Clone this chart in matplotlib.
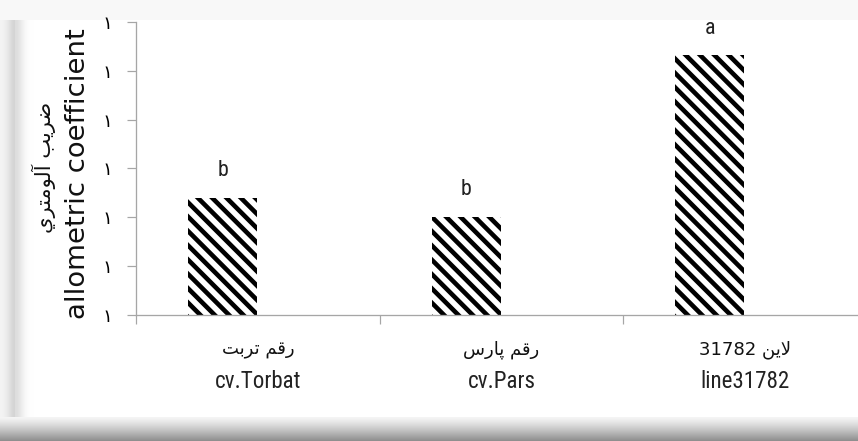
import re
import numpy as np
import matplotlib
matplotlib.use("Agg")
import matplotlib.pyplot as plt
from matplotlib import font_manager, transforms

# ---------------- data ----------------
categories_fa = ["رقم تربت", "رقم پارس", "لاين 31782"]
categories_en = ["cv.Torbat", "cv.Pars", "line31782"]
values = [1.240, 1.201, 1.532]
letters = ["b", "b", "a"]
yticks = [1.0, 1.1, 1.2, 1.3, 1.4, 1.5, 1.6]
ytick_labels = ["١"] * 7
ylabel_fa = "ضريب آلومتري"
ylabel_en = "allometric coefficient"

# ---------------- simple Arabic shaping (presentation forms) ----------------
FORMS = {
    "\u0627": ("\uFE8D", "\uFE8E", None, None),
    "\u0622": ("\uFE81", "\uFE82", None, None),
    "\u0628": ("\uFE8F", "\uFE90", "\uFE91", "\uFE92"),
    "\u062A": ("\uFE95", "\uFE96", "\uFE97", "\uFE98"),
    "\u0631": ("\uFEAD", "\uFEAE", None, None),
    "\u0633": ("\uFEB1", "\uFEB2", "\uFEB3", "\uFEB4"),
    "\u0636": ("\uFEBD", "\uFEBE", "\uFEBF", "\uFEC0"),
    "\u0642": ("\uFED5", "\uFED6", "\uFED7", "\uFED8"),
    "\u0644": ("\uFEDD", "\uFEDE", "\uFEDF", "\uFEE0"),
    "\u0645": ("\uFEE1", "\uFEE2", "\uFEE3", "\uFEE4"),
    "\u0646": ("\uFEE5", "\uFEE6", "\uFEE7", "\uFEE8"),
    "\u0648": ("\uFEED", "\uFEEE", None, None),
    "\u064A": ("\uFEF1", "\uFEF2", "\uFEF3", "\uFEF4"),
    "\u067E": ("\uFB56", "\uFB57", "\uFB58", "\uFB59"),
    "\u06CC": ("\uFBFC", "\uFBFD", "\uFBFE", "\uFBFF"),
}
LAM_ALEF = {"\u0627": ("\uFEFB", "\uFEFC"), "\u0622": ("\uFEF5", "\uFEF6")}


def shape(s):
    res = []
    prev_joins_next = False
    i, n = 0, len(s)
    while i < n:
        c = s[i]
        if c not in FORMS:
            res.append(c)
            prev_joins_next = False
            i += 1
            continue
        nxt = s[i + 1] if i + 1 < n else None
        if c == "\u0644" and nxt in LAM_ALEF:
            res.append(LAM_ALEF[nxt][1 if prev_joins_next else 0])
            prev_joins_next = False
            i += 2
            continue
        iso, fin, ini, med = FORMS[c]
        jp = prev_joins_next
        jn = ini is not None and nxt in FORMS
        if jp and jn:
            f = med
        elif jp:
            f = fin
        elif jn:
            f = ini
        else:
            f = iso
        res.append(f)
        prev_joins_next = ini is not None
        i += 1
    return "".join(res)


def visual(s):
    tokens = re.findall(r"[0-9A-Za-z.]+|.", shape(s))
    return "".join(reversed(tokens))


# ---------------- fonts ----------------
names = {f.name for f in font_manager.fontManager.ttflist}
narrow = next((f for f in ["Liberation Sans Narrow", "DejaVu Sans Condensed",
                           "Roboto Condensed", "Liberation Sans"] if f in names),
              "DejaVu Sans")

DPI = 86
W, H = 858, 441


def px(v):
    return v * 72.0 / DPI


fig = plt.figure(figsize=(W / DPI, H / DPI), dpi=DPI)
fig.patch.set_facecolor("white")
plt.rcParams["hatch.linewidth"] = px(4.6)

# ---------------- background frame with soft shadow ----------------
bg = np.ones((H, W))
yy, xx = np.mgrid[0:H, 0:W]
top = yy < 20
bg[top] = 0.975
left_prof = 0.13 * np.exp(-((xx - 15) / 8.0) ** 2) + 0.04 * (xx < 15)
mask_left = (xx < 34) & (yy >= 20) & (yy < 418)
bg[mask_left] = np.minimum(bg[mask_left], 1 - left_prof[mask_left])
bottom = yy >= 417
t = (yy - 417) / (H - 417)
bg[bottom] = (0.96 - 0.42 * t ** 1.2)[bottom]
bax = fig.add_axes([0, 0, 1, 1], zorder=-10)
bax.imshow(np.dstack([bg, bg, bg]), aspect="auto", interpolation="bilinear")
bax.set_axis_off()

# ---------------- main axes ----------------
ax = fig.add_axes([136 / W, 1 - 315 / H, (867 - 136) / W, (315 - 22) / H])
ax.set_facecolor("none")

bar_offset = -0.145
bar_width = 0.283
x = np.arange(len(values)) + bar_offset
ax.bar(x, values, width=bar_width, color="white", edgecolor="black",
       hatch="\\\\", linewidth=0, zorder=2)

for xi, v, lt in zip(x, values, letters):
    ax.annotate(lt, (xi, v), xytext=(0, px(27)), textcoords="offset points",
                ha="center", va="center", fontsize=px(22), family=narrow,
                color="#222222")

ax.set_xlim(-0.5, 2.5)
ax.set_ylim(yticks[0], yticks[-1])
ax.set_yticks(yticks)
ax.set_yticklabels(ytick_labels, fontsize=px(18), family="DejaVu Sans")
ax.set_xticks([-0.5, 0.5, 1.5, 2.5])
ax.set_xticklabels([])
axis_col = "#a6a6a6"
ax.tick_params(axis="y", length=px(9), width=px(1.2), color=axis_col,
               pad=px(15), direction="out")
ax.tick_params(axis="x", length=px(9), width=px(1.2), color=axis_col,
               direction="out")
for s in ["top", "right"]:
    ax.spines[s].set_visible(False)
for s in ["left", "bottom"]:
    ax.spines[s].set_color(axis_col)
    ax.spines[s].set_linewidth(px(1.3))

trans = transforms.blended_transform_factory(ax.transData, fig.transFigure)
for i, (fa, en) in enumerate(zip(categories_fa, categories_en)):
    ax.text(i, 1 - 350 / H, visual(fa), transform=trans, ha="center",
            va="center", fontsize=px(18), family="DejaVu Sans", color="#111111")
    ax.text(i, 1 - 382 / H, en, transform=trans, ha="center", va="center",
            fontsize=px(23), family=narrow, color="#222222")

fig.text(78 / W, 1 - 174 / H, ylabel_en, rotation=90, ha="center",
         va="center", fontsize=px(27.5), family="DejaVu Sans", color="#111111")
fig.text(44 / W, 1 - 167 / H, visual(ylabel_fa), rotation=90, ha="center",
         va="center", fontsize=px(21), family="DejaVu Sans", color="#111111")

fig.savefig("out.png", dpi=DPI)
